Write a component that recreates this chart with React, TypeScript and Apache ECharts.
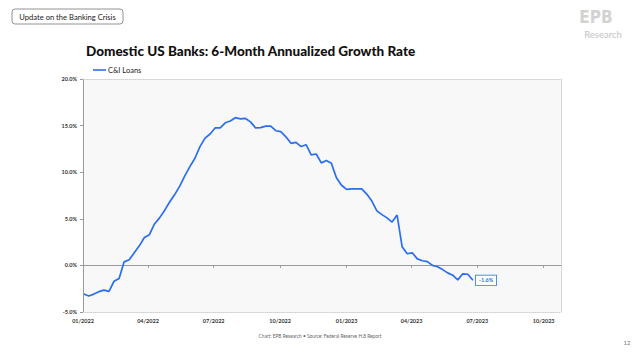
import React, { useEffect, useRef } from "react";
import * as echarts from "echarts";

const seriesName = "C&I Loans";
const chartTitle = "Domestic US Banks: 6-Month Annualized Growth Rate";
const headerTag = "Update on the Banking Crisis";
const footerText = "Chart: EPB Research \u2022 Source: Federal Reserve H.8 Report";
const pageNumber = "12";

// weekly observations, first week below
const firstWeek = "2022-01-02";
const growthValues = [
  -3.07, -3.28, -3.08, -2.82, -2.65, -2.78, -1.7, -1.4, 0.38, 0.6,
  1.35, 2.1, 3.0, 3.3, 4.45, 5.1, 5.9, 6.8, 7.6, 8.5,
  9.6, 10.6, 11.5, 12.75, 13.65, 14.1, 14.75, 14.75, 15.3, 15.5,
  15.85, 15.72, 15.77, 15.4, 14.75, 14.78, 14.95, 14.95, 14.45, 14.35,
  13.8, 13.1, 13.2, 12.75, 12.95, 11.85, 11.95, 11.0, 11.25, 10.95,
  9.4, 8.6, 8.15, 8.22, 8.22, 8.22, 7.65, 6.9, 5.85, 5.45,
  5.1, 4.65, 5.4, 2.0, 1.25, 1.35, 0.7, 0.5, 0.4, 0.0,
  -0.15, -0.45, -0.8, -1.05, -1.55, -0.9, -0.95, -1.6,
];

const quarterTicks = [
  "2022-01-01", "2022-04-01", "2022-07-01", "2022-10-01",
  "2023-01-01", "2023-04-01", "2023-07-01", "2023-10-01",
];
const axisStart = "2022-01-01";
const axisEnd = "2023-10-25";
const yMin = -5;
const yMax = 20;
const yStep = 5;

const ts = (s: string) => Date.parse(s + "T00:00:00Z");
const WEEK = 7 * 24 * 3600 * 1000;

export default function App() {
  const ref = useRef<HTMLDivElement>(null);
  useEffect(() => {
    if (!ref.current) return;
    const chart = echarts.init(ref.current, undefined, { renderer: "svg" });
    const start = ts(firstWeek);
    const data = growthValues.map((v, i) => [start + i * WEEK, v]);
    const tickVals = quarterTicks.map(ts);
    const fmtDate = (v: number) => {
      const d = new Date(v);
      return `${String(d.getUTCMonth() + 1).padStart(2, "0")}/${d.getUTCFullYear()}`;
    };
    const font = "Lato, 'Open Sans', sans-serif";
    const xBase = { type: "value", min: ts(axisStart), max: ts(axisEnd), scale: true };
    chart.setOption({
      animation: false,
      textStyle: { fontFamily: font },
      title: {
        text: chartTitle,
        left: 81,
        top: 39,
        textStyle: { fontSize: 13.5, fontWeight: 900, color: "#111", fontFamily: font },
      },
      legend: {
        left: 88,
        top: 61,
        icon: "rect",
        itemWidth: 13,
        itemHeight: 1.6,
        itemGap: 4,
        textStyle: { fontSize: 7.5, color: "#222", fontFamily: font, padding: [0, 0, 0, -3] },
        data: [seriesName],
      },
      grid: {
        left: 83,
        right: 79,
        top: 79,
        bottom: 48,
        show: true,
        backgroundColor: "#f8f8f8",
        borderWidth: 0,
      },
      xAxis: [
        {
          ...xBase,
          position: "bottom",
          axisLine: { onZero: false, lineStyle: { color: "#d0d0d0", type: "dotted", width: 1 } },
          axisTick: { show: false },
          splitLine: { show: false },
          axisLabel: {
            customValues: tickVals,
            formatter: (v: number) => fmtDate(v),
            fontSize: 5.5,
            fontWeight: "bold",
            color: "#333",
            margin: 6,
            hideOverlap: false,
            showMinLabel: true,
            showMaxLabel: true,
          },
        },
        {
          ...xBase,
          position: "bottom",
          axisLine: { onZero: true, lineStyle: { color: "#9a9a9a", width: 1 } },
          axisTick: { show: true, customValues: tickVals, length: 2.5, lineStyle: { color: "#9a9a9a" } },
          axisLabel: { show: false },
          splitLine: { show: false },
        },
        {
          ...xBase,
          position: "top",
          axisLine: { onZero: false, lineStyle: { color: "#d0d0d0", type: "dotted", width: 1 } },
          axisTick: { show: false },
          axisLabel: { show: false },
          splitLine: { show: false },
        },
      ],
      yAxis: [
        {
          type: "value",
          min: yMin,
          max: yMax,
          interval: yStep,
          position: "left",
          axisLine: { show: true, lineStyle: { color: "#9a9a9a", width: 1 } },
          axisTick: { show: true, length: 3, lineStyle: { color: "#9a9a9a" } },
          splitLine: { show: false },
          axisLabel: {
            formatter: (v: number) => `${v.toFixed(1)}%`,
            fontSize: 5.5,
            fontWeight: "bold",
            color: "#333",
            margin: 6,
          },
        },
        {
          type: "value",
          min: yMin,
          max: yMax,
          interval: yStep,
          position: "right",
          axisLine: { show: true, lineStyle: { color: "#d0d0d0", type: "dotted", width: 1 } },
          axisTick: { show: false },
          axisLabel: { show: false },
          splitLine: { show: false },
        },
      ],
      series: [
        {
          name: seriesName,
          type: "line",
          xAxisIndex: 0,
          yAxisIndex: 0,
          data,
          symbol: "none",
          lineStyle: { color: "#2a6ef0", width: 1.7 },
          itemStyle: { color: "#2a6ef0" },
          endLabel: {
            show: true,
            formatter: (p: any) => `${p.value[1].toFixed(1)}%`,
            fontSize: 5.5,
            fontWeight: "bold",
            color: "#2a6ef0",
            backgroundColor: "#fff",
            borderColor: "#2a6ef0",
            borderWidth: 0.8,
            padding: [2, 3, 1.5, 3],
            distance: 3,
          },
        },
      ],
      graphic: [
        {
          type: "rect",
          shape: { x: 12, y: 9, width: 111, height: 15, r: 3 },
          style: { fill: "#fff", stroke: "#777", lineWidth: 0.8 },
        },
        {
          type: "text",
          x: 67.5,
          y: 16.5,
          style: {
            text: headerTag,
            fontSize: 7.6,
            fill: "#222",
            fontFamily: font,
            align: "center",
            verticalAlign: "middle",
          },
        },
        {
          type: "text",
          x: 596,
          y: 17,
          style: {
            text: "EPB",
            fontSize: 17,
            fontWeight: 900,
            fill: "#d2d2d2",
            fontFamily: "'DejaVu Sans Condensed', 'DejaVu Sans', sans-serif",
            align: "center",
            verticalAlign: "middle",
          },
        },
        {
          type: "text",
          x: 603,
          y: 34,
          style: {
            text: "Research",
            fontSize: 9.5,
            fill: "#c4c4c4",
            fontFamily: font,
            align: "center",
            verticalAlign: "middle",
          },
        },
        {
          type: "text",
          x: 320,
          y: 336,
          style: {
            text: footerText,
            fontSize: 4.8,
            fill: "#666",
            fontFamily: font,
            align: "center",
            verticalAlign: "middle",
          },
        },
        {
          type: "text",
          x: 627,
          y: 342,
          style: {
            text: pageNumber,
            fontSize: 6,
            fill: "#777",
            fontFamily: font,
            align: "center",
            verticalAlign: "middle",
          },
        },
      ],
    });
    return () => chart.dispose();
  }, []);
  return (
    <div
      ref={ref}
      style={{ position: "absolute", left: 0, top: 0, width: 640, height: 360, background: "#fff" }}
    />
  );
}
